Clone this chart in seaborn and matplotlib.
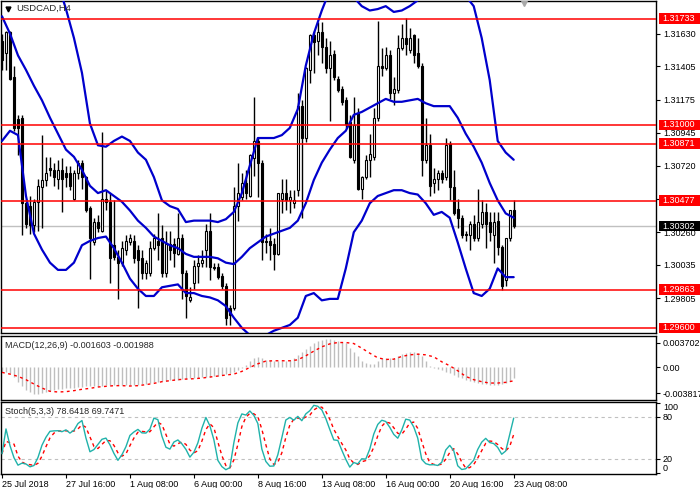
import numpy as np
import pandas as pd
import matplotlib
matplotlib.use("Agg")
import matplotlib.pyplot as plt
from matplotlib.patches import Rectangle
import seaborn as sns

# velas H4 USDCAD (25 Jul 2018 00:00 -> 23 Aug 08:00)
opens = [1.3158, 1.3150, 1.3164, 1.3133, 1.3104, 1.3105, 1.3046, 1.3044, 1.3031, 1.3047,
         1.3057, 1.3062, 1.3070, 1.3069, 1.3063, 1.3069, 1.3067, 1.3067, 1.3049, 1.3067,
         1.3074, 1.3064, 1.3043, 1.3019, 1.3033, 1.3027, 1.3049, 1.3047, 1.3017, 1.3009,
         1.3005, 1.3014, 1.3019, 1.3020, 1.3014, 1.3008, 1.2998, 1.2998, 1.3015, 1.3020,
         1.3022, 1.2998, 1.3018, 1.3018, 1.3011, 1.3022, 1.2998, 1.2979, 1.2991, 1.3003,
         1.3005, 1.3014, 1.3027, 1.3002, 1.3002, 1.2996, 1.2989, 1.2974, 1.2974, 1.3044,
         1.3050, 1.3060, 1.3051, 1.3077, 1.3089, 1.3074, 1.3020, 1.3020, 1.3018, 1.3011,
         1.3049, 1.3053, 1.3048, 1.3046, 1.3055, 1.3113, 1.3091, 1.3138, 1.3162, 1.3158,
         1.3164, 1.3154, 1.3139, 1.3149, 1.3132, 1.3125, 1.3117, 1.3102, 1.3076, 1.3108,
         1.3056, 1.3064, 1.3076, 1.3078, 1.3105, 1.3141, 1.3139, 1.3148, 1.3122, 1.3124,
         1.3153, 1.3160, 1.3152, 1.3162, 1.3150, 1.3141, 1.3076, 1.3086, 1.3060, 1.3063,
         1.3067, 1.3064, 1.3087, 1.3057, 1.3042, 1.3036, 1.3025, 1.3024, 1.3032, 1.3022,
         1.3032, 1.3040, 1.3033, 1.3024, 1.3034, 1.3016, 1.2993, 1.3022, 1.3041]
highs = [1.3163, 1.3165, 1.3165, 1.3141, 1.3107, 1.3107, 1.3049, 1.3051, 1.3049, 1.3063,
         1.3093, 1.3078, 1.3078, 1.3074, 1.3076, 1.3077, 1.3072, 1.3072, 1.3069, 1.3076,
         1.3076, 1.3065, 1.3044, 1.3036, 1.3038, 1.3095, 1.3055, 1.3053, 1.3048, 1.3014,
         1.3020, 1.3024, 1.3025, 1.3024, 1.3017, 1.3014, 1.3007, 1.3020, 1.3025, 1.3039,
         1.3031, 1.3027, 1.3027, 1.3022, 1.3039, 1.3025, 1.3000, 1.2988, 1.3007, 1.3010,
         1.3014, 1.3032, 1.3039, 1.3005, 1.3005, 1.2998, 1.2991, 1.2976, 1.3057, 1.3074,
         1.3067, 1.3069, 1.3080, 1.3119, 1.3091, 1.3076, 1.3025, 1.3029, 1.3022, 1.3053,
         1.3063, 1.3063, 1.3055, 1.3055, 1.3122, 1.3117, 1.3140, 1.3163, 1.3165, 1.3171,
         1.3171, 1.3160, 1.3158, 1.3152, 1.3134, 1.3127, 1.3119, 1.3107, 1.3119, 1.3112,
         1.3065, 1.3079, 1.3094, 1.3112, 1.3172, 1.3153, 1.3154, 1.3152, 1.3133, 1.3162,
         1.3170, 1.3174, 1.3167, 1.3163, 1.3160, 1.3143, 1.3105, 1.3094, 1.3070, 1.3069,
         1.3069, 1.3091, 1.3089, 1.3069, 1.3049, 1.3038, 1.3027, 1.3034, 1.3038, 1.3056,
         1.3048, 1.3046, 1.3040, 1.3040, 1.3040, 1.3017, 1.3022, 1.3041, 1.3048]
lows = [1.3138, 1.3138, 1.3131, 1.3096, 1.3079, 1.3024, 1.3029, 1.3025, 1.3026, 1.3027,
        1.3029, 1.3058, 1.3065, 1.3058, 1.3056, 1.3040, 1.3057, 1.3055, 1.3048, 1.3063,
        1.3056, 1.3040, 1.2994, 1.3017, 1.3026, 1.3026, 1.3041, 1.2991, 1.3007, 1.2980,
        1.3003, 1.3010, 1.3017, 1.3005, 1.2974, 1.2994, 1.2994, 1.2996, 1.3014, 1.3007,
        1.2995, 1.2995, 1.3007, 1.3002, 1.3010, 1.2980, 1.2967, 1.2978, 1.2987, 1.2991,
        1.3002, 1.3002, 1.2993, 1.3000, 1.2994, 1.2987, 1.2962, 1.2962, 1.2972, 1.3034,
        1.3048, 1.3049, 1.3050, 1.3065, 1.3050, 1.3007, 1.3012, 1.3007, 1.3000, 1.3010,
        1.3039, 1.3041, 1.3039, 1.3043, 1.3051, 1.3036, 1.3088, 1.3129, 1.3136, 1.3148,
        1.3143, 1.3136, 1.3103, 1.3131, 1.3123, 1.3114, 1.3098, 1.3077, 1.3074, 1.3055,
        1.3049, 1.3063, 1.3064, 1.3076, 1.3103, 1.3134, 1.3138, 1.3118, 1.3114, 1.3122,
        1.3152, 1.3148, 1.3150, 1.3143, 1.3139, 1.3065, 1.3074, 1.3051, 1.3053, 1.3055,
        1.3060, 1.3062, 1.3048, 1.3038, 1.3029, 1.3022, 1.3020, 1.3014, 1.3020, 1.3020,
        1.3029, 1.3015, 1.3020, 1.3005, 1.3010, 1.2986, 1.2989, 1.3020, 1.3029]
closes = [1.3145, 1.3164, 1.3132, 1.3098, 1.3098, 1.3046, 1.3032, 1.3031, 1.3047, 1.3058,
          1.3062, 1.3067, 1.3069, 1.3064, 1.3069, 1.3063, 1.3064, 1.3058, 1.3067, 1.3074,
          1.3064, 1.3041, 1.3022, 1.3033, 1.3029, 1.3049, 1.3047, 1.3008, 1.3009, 1.3005,
          1.3015, 1.3020, 1.3022, 1.3008, 1.3007, 1.2998, 1.3005, 1.3015, 1.3022, 1.3017,
          1.2998, 1.3018, 1.3014, 1.3012, 1.3022, 1.2998, 1.2982, 1.2981, 1.3003, 1.3005,
          1.3007, 1.3027, 1.3002, 1.3001, 1.2995, 1.2989, 1.2967, 1.2969, 1.3044, 1.3053,
          1.3060, 1.3053, 1.3079, 1.3089, 1.3074, 1.3019, 1.3019, 1.3017, 1.3011, 1.3053,
          1.3053, 1.3048, 1.3050, 1.3048, 1.3113, 1.3091, 1.3139, 1.3162, 1.3157, 1.3164,
          1.3154, 1.3139, 1.3148, 1.3133, 1.3124, 1.3116, 1.3101, 1.3078, 1.3100, 1.3056,
          1.3064, 1.3076, 1.3080, 1.3105, 1.3141, 1.3139, 1.3148, 1.3122, 1.3125, 1.3153,
          1.3160, 1.3156, 1.3160, 1.3148, 1.3141, 1.3076, 1.3086, 1.3058, 1.3063, 1.3067,
          1.3063, 1.3086, 1.3057, 1.3039, 1.3036, 1.3024, 1.3024, 1.3032, 1.3022, 1.3033,
          1.3040, 1.3032, 1.3026, 1.3033, 1.3016, 1.2989, 1.3022, 1.3041, 1.3030]

# Bollinger (20,2) leido cada 2 velas
bb_upper = [1.3276, 1.3265, 1.3255, 1.3245, 1.3234, 1.3224, 1.3212, 1.3198, 1.3180, 1.3160,
            1.3136, 1.3101, 1.3086, 1.3085, 1.3089, 1.3092, 1.3089, 1.3081, 1.3076, 1.3064,
            1.3048, 1.3044, 1.3042, 1.3033, 1.3034, 1.3034, 1.3034, 1.3033, 1.3035, 1.3040,
            1.3053, 1.3072, 1.3091, 1.3091, 1.3091, 1.3093, 1.3098, 1.3111, 1.3141, 1.3163,
            1.3179, 1.3193, 1.3203, 1.3203, 1.3188, 1.3182, 1.3179, 1.3180, 1.3182, 1.3178,
            1.3179, 1.3182, 1.3186, 1.3192, 1.3194, 1.3196, 1.3196, 1.3194, 1.3189, 1.3182,
            1.3160, 1.3131, 1.3089, 1.3081, 1.3076]
bb_mid = [1.3175, 1.3163, 1.3148, 1.3138, 1.3127, 1.3117, 1.3105, 1.3094, 1.3083, 1.3078,
          1.3069, 1.3058, 1.3053, 1.3055, 1.3051, 1.3047, 1.3041, 1.3034, 1.3029, 1.3023,
          1.3020, 1.3017, 1.3015, 1.3011, 1.3009, 1.3009, 1.3009, 1.3008, 1.3005, 1.3004,
          1.3009, 1.3015, 1.3019, 1.3023, 1.3025, 1.3027, 1.3029, 1.3034, 1.3046, 1.3062,
          1.3074, 1.3083, 1.3091, 1.3096, 1.3107, 1.3109, 1.3112, 1.3115, 1.3118, 1.3116,
          1.3116, 1.3117, 1.3118, 1.3115, 1.3113, 1.3113, 1.3113, 1.3105, 1.3094, 1.3085,
          1.3074, 1.3060, 1.3048, 1.3039, 1.3036]
bb_lower = [1.3089, 1.3096, 1.3093, 1.3051, 1.3025, 1.3014, 1.3005, 1.3000, 1.3000, 1.3005,
            1.3017, 1.3020, 1.3022, 1.3023, 1.3015, 1.3005, 1.2994, 1.2987, 1.2982, 1.2982,
            1.2988, 1.2989, 1.2990, 1.2984, 1.2984, 1.2982, 1.2981, 1.2979, 1.2975, 1.2967,
            1.2960, 1.2955, 1.2953, 1.2955, 1.2958, 1.2960, 1.2962, 1.2967, 1.2982, 1.2984,
            1.2979, 1.2980, 1.2980, 1.3001, 1.3026, 1.3034, 1.3046, 1.3051, 1.3053, 1.3055,
            1.3055, 1.3053, 1.3052, 1.3046, 1.3038, 1.3040, 1.3036, 1.3019, 1.3001, 1.2984,
            1.2982, 1.2987, 1.3001, 1.2995, 1.2995]

# MACD(12,26,9): linea principal por vela, senal cada 2 velas
macd_main = [-0.00064, -0.00074, -0.00084, -0.00148, -0.00212, -0.00281, -0.00335, -0.00370,
             -0.00394, -0.00394, -0.00380, -0.00360, -0.00345, -0.00335, -0.00320, -0.00316,
             -0.00311, -0.00306, -0.00301, -0.00296, -0.00291, -0.00281, -0.00281, -0.00276,
             -0.00271, -0.00271, -0.00266, -0.00266, -0.00261, -0.00261, -0.00261, -0.00261,
             -0.00261, -0.00261, -0.00256, -0.00252, -0.00242, -0.00227, -0.00217, -0.00212,
             -0.00207, -0.00197, -0.00192, -0.00187, -0.00182, -0.00173, -0.00168, -0.00163,
             -0.00158, -0.00153, -0.00148, -0.00143, -0.00138, -0.00128, -0.00123, -0.00113,
             -0.00104, -0.00089, -0.00074, -0.00044, -0.00010, 0.00035, 0.00089, 0.00133,
             0.00153, 0.00133, 0.00113, 0.00104, 0.00099, 0.00099, 0.00099, 0.00099,
             0.00113, 0.00138, 0.00182, 0.00222, 0.00271, 0.00320, 0.00360, 0.00394,
             0.00414, 0.00419, 0.00419, 0.00409, 0.00394, 0.00380, 0.00360, 0.00296,
             0.00222, 0.00163, 0.00099, 0.00059, 0.00044, 0.00054, 0.00099, 0.00133,
             0.00143, 0.00133, 0.00143, 0.00173, 0.00197, 0.00217, 0.00227, 0.00222,
             0.00212, 0.00173, 0.00089, 0.00015, -0.00010, -0.00025, -0.00044, -0.00064,
             -0.00089, -0.00113, -0.00138, -0.00163, -0.00182, -0.00207, -0.00222, -0.00232,
             -0.00242, -0.00252, -0.00256, -0.00261, -0.00261, -0.00252, -0.00232, -0.00202,
             -0.00160]
macd_signal = [-0.00074, -0.00099, -0.00133, -0.00182, -0.00247, -0.00306, -0.00355, -0.00365,
               -0.00360, -0.00345, -0.00325, -0.00311, -0.00291, -0.00281, -0.00271, -0.00271,
               -0.00276, -0.00271, -0.00256, -0.00237, -0.00212, -0.00197, -0.00182, -0.00173,
               -0.00168, -0.00158, -0.00143, -0.00128, -0.00113, -0.00099, -0.00059, 0.00000,
               0.00054, 0.00094, 0.00099, 0.00099, 0.00099, 0.00113, 0.00173, 0.00242,
               0.00306, 0.00350, 0.00370, 0.00370, 0.00355, 0.00286, 0.00212, 0.00143,
               0.00118, 0.00123, 0.00163, 0.00187, 0.00197, 0.00187, 0.00158, 0.00084,
               0.00025, -0.00049, -0.00133, -0.00182, -0.00212, -0.00232, -0.00232, -0.00222,
               -0.00199]

red_levels = [1.31733, 1.31000, 1.30871, 1.30477, 1.29863, 1.29600]
last_price = 1.30302
price_ticks = [1.31630, 1.31405, 1.31175, 1.30945, 1.30720, 1.30490, 1.30260, 1.30035, 1.29805]
date_labels = ["25 Jul 2018", "27 Jul 16:00", "1 Aug 08:00", "6 Aug 00:00", "8 Aug 16:00",
               "13 Aug 08:00", "16 Aug 00:00", "20 Aug 16:00", "23 Aug 08:00"]

df = pd.DataFrame({"open": opens, "high": highs, "low": lows, "close": closes,
                   "macd": macd_main})
df["bar"] = np.arange(len(df))
two_bars = np.arange(0, len(df), 2)

# Estocastico (5,3,3) a partir de las velas
ll = df["low"].rolling(5, min_periods=1).min()
hh = df["high"].rolling(5, min_periods=1).max()
num = (df["close"] - ll).rolling(3, min_periods=1).sum()
den = (hh - ll).rolling(3, min_periods=1).sum()
df["k"] = 100 * num / den
df["d"] = df["k"].rolling(3, min_periods=1).mean()

sns.set_style("white")
plt.rcParams["font.family"] = ["Liberation Sans", "DejaVu Sans"]
FS = 6.5

W, H = 700, 488
fig = plt.figure(figsize=(W / 100, H / 100), dpi=100)


def px_axes(x0, y0, x1, y1):
    return fig.add_axes([x0 / W, 1 - y1 / H, (x1 - x0) / W, (y1 - y0) / H])


ax = px_axes(0.5, 0.5, 656, 332.5)
ax_m = px_axes(0.5, 336, 656, 400)
ax_s = px_axes(0.5, 402, 656, 474)
xlim = (-0.375, 163.6)

for a in (ax, ax_m, ax_s):
    a.set_xlim(*xlim)
    for sp in a.spines.values():
        sp.set_color("black")
        sp.set_linewidth(1)
    a.yaxis.tick_right()
    a.tick_params(axis="y", length=3, width=0.8, pad=2, labelsize=FS, colors="black")
    a.set_xticks([])
    a.grid(False)

# ---- panel principal
ax.set_ylim(1.29568, 1.31859)
ax.axhline(last_price, color="#C0C0C0", lw=1, zorder=1)

up = df["close"] >= df["open"]
bottoms = np.minimum(df["open"], df["close"])
heights = np.maximum((df["close"] - df["open"]).abs(), 0.00002)
ax.vlines(df["bar"], df["low"], df["high"], color="black", lw=1, zorder=2)
ax.bar(df["bar"][up], heights[up], bottom=bottoms[up], width=0.5,
       color="white", edgecolor="black", linewidth=0.8, zorder=3)
ax.bar(df["bar"][~up], heights[~up], bottom=bottoms[~up], width=0.5,
       color="black", edgecolor="black", linewidth=0.8, zorder=3)

for band in (bb_upper, bb_mid, bb_lower):
    sns.lineplot(x=two_bars, y=band, ax=ax, color="#0000CC", lw=1.6, zorder=4, errorbar=None)

for lvl in red_levels:
    ax.axhline(lvl, color="red", lw=1.1, zorder=5)

ax.set_yticks(price_ticks)
ax.set_yticklabels([f"{t:.5f}" for t in price_ticks])
ax.set_ylabel("")

ytr = ax.get_yaxis_transform()
box_h = 0.00073
for lvl, fc in [(v, "red") for v in red_levels] + [(last_price, "black")]:
    ax.add_patch(Rectangle((1 + 3 / 656, lvl - box_h / 2), 44 / 656, box_h, transform=ytr,
                           facecolor=fc, edgecolor="none", clip_on=False, zorder=10))
    ax.text(1 + 6 / 656, lvl, f"{lvl:.5f}", transform=ytr, color="white", fontsize=FS,
            va="center", ha="left", clip_on=False, zorder=11)

ax.plot([130.6], [1.3184], marker="v", color="#A8A8A8", ms=5, zorder=6)
ax.plot([8 / 656], [1 - 8 / 332], marker="v", color="black", ms=3.5,
        transform=ax.transAxes, clip_on=False)
fig.text(16 / W, 1 - 8.5 / H, "USDCAD,H4", fontsize=6.8, va="center", ha="left")

# ---- MACD
ax_m.set_ylim(-0.00484, 0.00467)
ax_m.vlines(df["bar"], 0, df["macd"], color="#BEBEBE", lw=1, zorder=2)
sns.lineplot(x=two_bars, y=macd_signal, ax=ax_m, color="red", lw=1,
             linestyle=(0, (2, 2.5)), zorder=3, errorbar=None)
ax_m.set_yticks([0.003702, 0.0, -0.003817])
ax_m.set_yticklabels(["0.003702", "0.00", "-0.003817"])
ax_m.set_ylabel("")
fig.text(5 / W, 1 - 345 / H, "MACD(12,26,9) -0.001603 -0.001988", fontsize=FS, va="center")

# ---- Stoch
ax_s.set_ylim(-1, 102)
for lvl in (20, 80):
    ax_s.axhline(lvl, color="#C0C0C0", lw=0.8, ls=(0, (3, 3)), zorder=1)
sns.lineplot(x=df["bar"], y=df["k"], ax=ax_s, color="#20B2AA", lw=1, zorder=3, errorbar=None)
sns.lineplot(x=df["bar"], y=df["d"], ax=ax_s, color="red", lw=1,
             linestyle=(0, (2.5, 2.5)), zorder=2, errorbar=None)
ax_s.set_yticks([100, 80, 20, 0])
ax_s.set_yticklabels(["100", "80", "20", "0"])
for lbl, va in zip(ax_s.get_yticklabels(), ["top", "center", "center", "bottom"]):
    lbl.set_va(va)
ax_s.set_ylabel("")
fig.text(5 / W, 1 - 411 / H, "Stoch(5,3,3) 78.6418 69.7471", fontsize=FS, va="center")

ax_s.set_xticks(np.arange(0, 129, 16))
ax_s.set_xticklabels(date_labels, ha="left")
ax_s.tick_params(axis="x", length=3, width=0.8, pad=1.5, labelsize=FS, colors="black",
                 bottom=True)
ax_s.set_xlabel("")
ax_m.set_xlabel("")
ax.set_xlabel("")

fig.savefig("out.png", dpi=100)
